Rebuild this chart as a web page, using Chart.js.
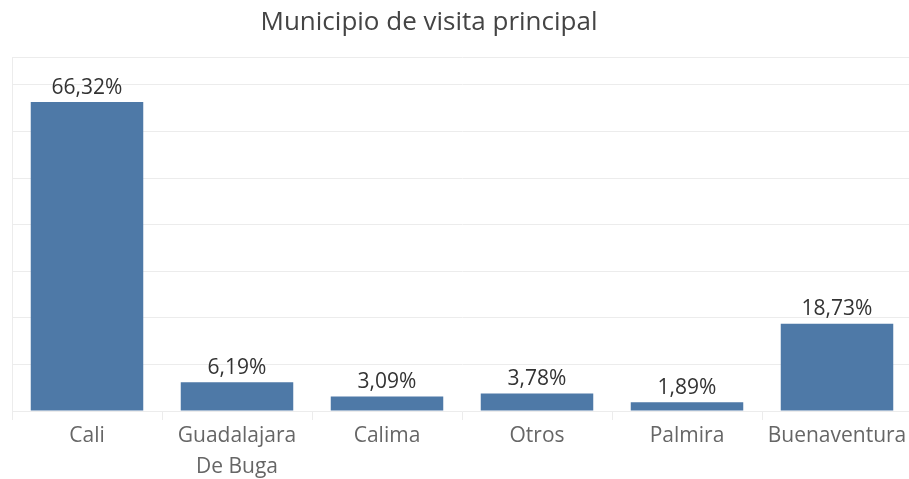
<!DOCTYPE html>
<html>
<head>
<meta charset="utf-8">
<script src="https://cdn.jsdelivr.net/npm/chart.js@4"></script>
<style>
  html, body { margin: 0; padding: 0; background: #fff; overflow: hidden; }
  #wrap { width: 912px; height: 479px; position: relative; }
</style>
</head>
<body>
<div id="wrap"><canvas id="chart"></canvas></div>
<script>
const municipios = ["Cali", ["Guadalajara", "De Buga"], "Calima", "Otros", "Palmira", "Buenaventura"];
const porcentajes = [66.32, 6.19, 3.09, 3.78, 1.89, 18.73];
const chartTitle = "Municipio de visita principal";

const font = "'Open Sans', sans-serif";
const gridColor = "#ececec";

// etiquetas de valor sobre cada barra
const valueLabels = {
  id: "valueLabels",
  afterDatasetsDraw(chart) {
    const ctx = chart.ctx;
    const meta = chart.getDatasetMeta(0);
    ctx.save();
    ctx.font = "21px " + font;
    ctx.fillStyle = "#333";
    ctx.textAlign = "center";
    ctx.textBaseline = "bottom";
    meta.data.forEach((bar, i) => {
      const txt = porcentajes[i].toFixed(2).replace(".", ",") + "%";
      ctx.fillText(txt, bar.x, bar.y - 4);
    });
    ctx.restore();
  }
};

// titulo (en Tableau queda algo a la izquierda del centro)
const titlePlugin = {
  id: "titlePlugin",
  afterDraw(chart) {
    const ctx = chart.ctx;
    ctx.save();
    ctx.font = "26px " + font;
    ctx.fillStyle = "#444";
    ctx.textAlign = "center";
    ctx.textBaseline = "middle";
    ctx.fillText(chartTitle, 429, 23);
    ctx.restore();
  }
};

new Chart(document.getElementById("chart"), {
  type: "bar",
  data: {
    labels: municipios,
    datasets: [{
      data: porcentajes,
      backgroundColor: "#4e79a7",
      categoryPercentage: 0.75,
      barPercentage: 1
    }]
  },
  options: {
    responsive: true,
    maintainAspectRatio: false,
    animation: false,
    layout: { padding: { top: 57, left: 12, right: 0, bottom: 0 } },
    plugins: {
      legend: { display: false },
      tooltip: { enabled: false },
      title: { display: false }
    },
    scales: {
      x: {
        grid: {
          offset: true,
          drawOnChartArea: false,
          drawTicks: true,
          tickLength: 9,
          color: gridColor
        },
        border: { color: gridColor },
        ticks: {
          color: "#666",
          font: { family: font, size: 21, lineHeight: 1.45 },
          padding: 1,
          maxRotation: 0,
          autoSkip: false
        },
        afterFit(scale) { scale.height = 68; }
      },
      y: {
        min: 0,
        max: 76,
        ticks: { display: false, stepSize: 10 },
        grid: { color: gridColor, drawTicks: false },
        border: { color: gridColor },
        afterFit(scale) { scale.width = 0; }
      }
    }
  },
  plugins: [valueLabels, titlePlugin]
});
</script>
</body>
</html>
